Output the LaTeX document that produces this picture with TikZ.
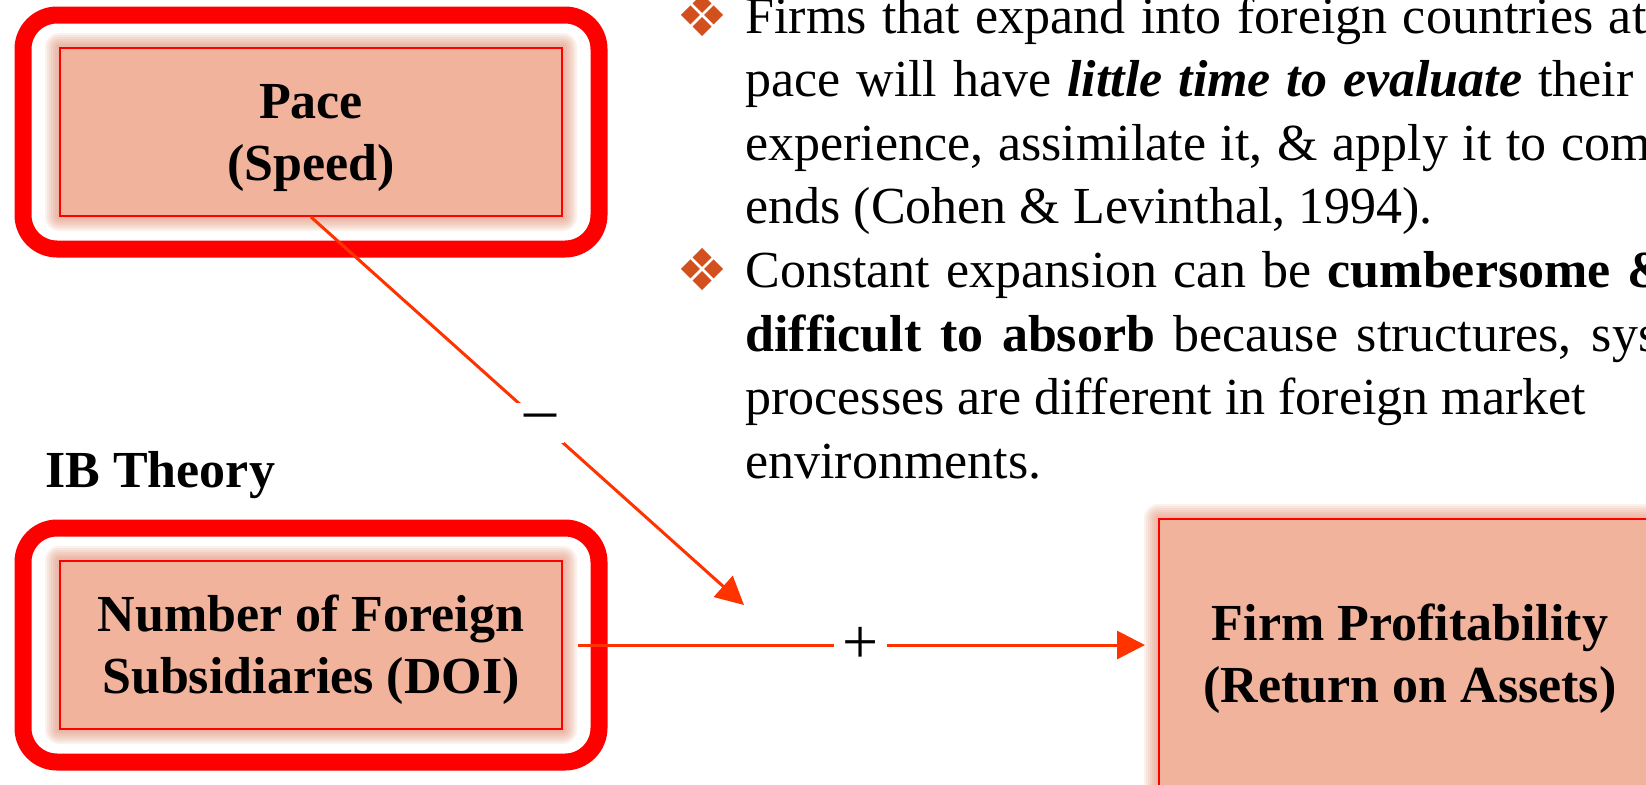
\documentclass[tikz,border=0pt]{standalone}
\usepackage{fontspec}
\setmainfont{Liberation Serif}
\newfontfamily\symfont{DejaVu Sans}
\definecolor{salmon}{RGB}{242,179,157}
\definecolor{glowcol}{RGB}{226,140,110}
\definecolor{boxred}{RGB}{255,0,0}
\definecolor{arrowred}{RGB}{255,51,0}
\definecolor{bulletcol}{RGB}{210,80,30}
\newcommand{\boxstrut}{\rule[-5.6pt]{0pt}{28.8pt}}
\newcommand{\spread}[2]{\hbox to #1{#2}}
\usetikzlibrary{arrows.meta,positioning,calc,fit,backgrounds}

\begin{document}
\begin{tikzpicture}[x=0.5pt,y=-0.5pt,
    inbox/.style={draw=boxred,line width=1pt,fill=salmon,minimum width=251pt,minimum height=84pt,
      inner sep=0pt,align=center,font=\fontsize{26}{31}\selectfont\bfseries},
    frame/.style={draw=boxred,line width=8.5pt,fill=white,rounded corners=17pt,inner xsep=18pt,inner ysep=16pt},
    glow/.style={fill=glowcol,opacity=0.12},
    link/.style={draw=arrowred,line width=1.5pt,-{Triangle[length=14pt,width=14pt]}},
    sign/.style={fill=white,inner xsep=4pt,inner ysep=0pt,minimum height=20pt,font=\fontsize{32}{32}\selectfont},
    bodytext/.style={anchor=base west,inner sep=0pt,font=\fontsize{26}{31}\selectfont},
    bulletmark/.style={text=bulletcol,inner sep=0pt,font=\symfont\fontsize{29}{29}\selectfont}]
    \useasboundingbox (0,0) rectangle (1646,784);

    % Constructs
    \node[inbox] (pace) at (311,132) {\boxstrut Pace\\\boxstrut(Speed)};
    \node[inbox] (doi) at (311,645) {\boxstrut Number of Foreign\\\boxstrut Subsidiaries (DOI)};
    \node[inbox,minimum height=135pt] (roa) at (1410,654) {\boxstrut Firm Profitability\\\boxstrut(Return on Assets)};
    \node[anchor=base west,inner sep=0pt,font=\fontsize{26}{31}\selectfont\bfseries] (ibt) at (45,487) {IB Theory};

    % Frames and glow
    \begin{scope}[on background layer]
        \foreach \n in {pace,doi}
            \node[frame,fit=(\n)] (\n-frame) {};
        \foreach \n in {pace,doi,roa}
            \foreach \g in {1,...,7}
                \fill[glow,rounded corners=\g pt] ($(\n.south west)+(-\g pt,-\g pt)$) rectangle ($(\n.north east)+(\g pt,\g pt)$);
    \end{scope}

    % Effects
    \coordinate (jn) at (744,605);
    \draw[link] (pace.south) -- node[sign,pos=0.53] (minus) {–} (jn);
    \draw[link,shorten <=7.5pt,shorten >=6.5pt] (doi.east) -- node[sign] (plus) {+} (doi.east -| roa.west);

    % Argument
    \node[bulletmark] (bul1) at (702,15) {❖};
    \node[bulletmark] (bul2) at (702,269) {❖};
    \foreach \txt [count=\i from 0] in {
        {\spread{450.5pt}{Firms that expand into foreign countries at}},
        {\spread{444pt}{pace will have \textbf{\textit{little time to evaluate}} their}},
        {\spread{452.5pt}{experience, assimilate it, \& apply it to com}},
        {ends (Cohen \& Levinthal, 1994).},
        {\spread{462.5pt}{Constant expansion can be \textbf{cumbersome \&}}},
        {\spread{456.5pt}{\textbf{difficult to absorb} because structures, sys}},
        {processes are different in foreign market},
        {environments.}}
        \node[bodytext] (line\i) at (745,33+63.6*\i) {\txt};
\end{tikzpicture}
\end{document}
